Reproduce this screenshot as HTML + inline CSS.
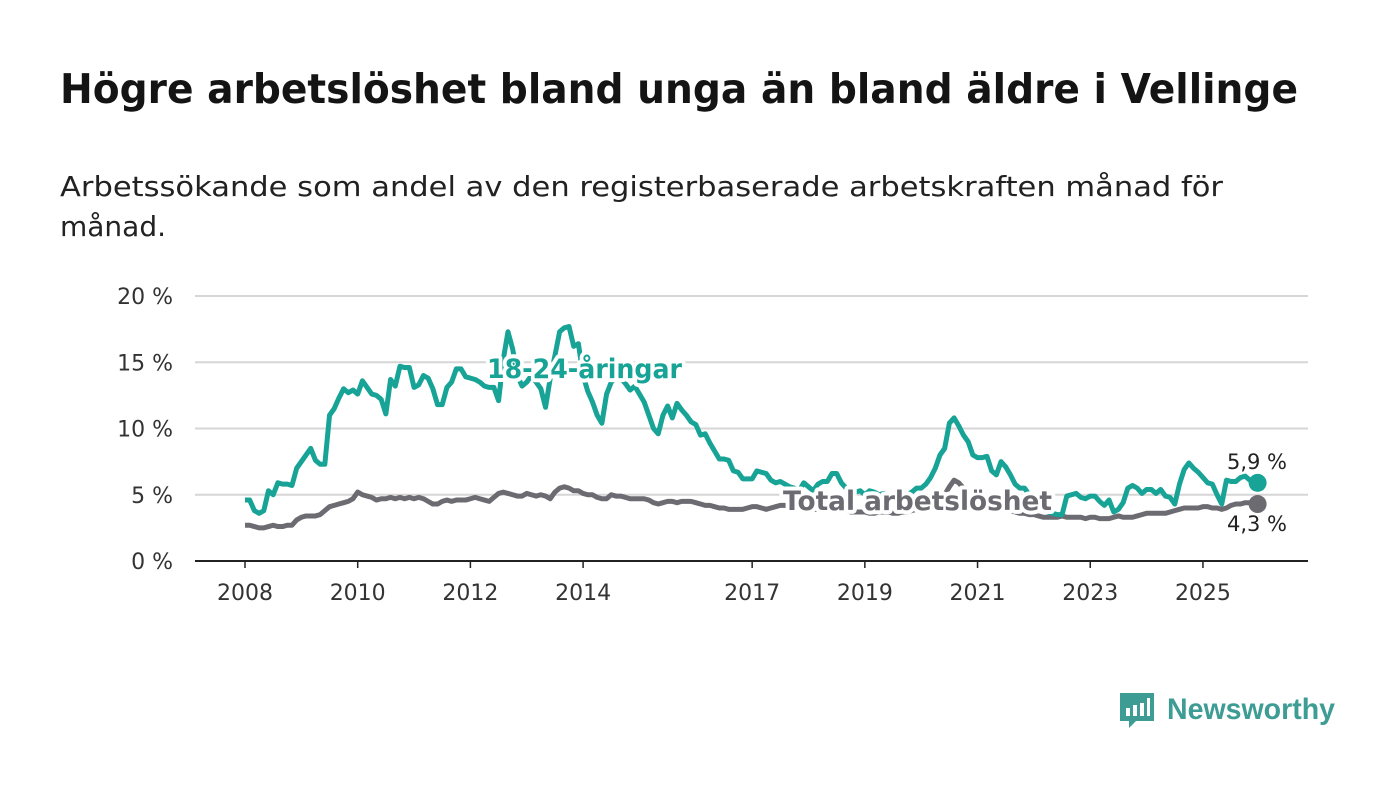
<!DOCTYPE html>
<html><head><meta charset="utf-8"><style>
body{margin:0;background:#fff;width:1400px;height:794px;overflow:hidden;font-family:"DejaVu Sans","Liberation Sans",sans-serif;}
</style></head><body>
<svg width="1400" height="794" xmlns="http://www.w3.org/2000/svg" font-family="DejaVu Sans, Liberation Sans, sans-serif">
<text x="60" y="103" font-size="41" font-weight="bold" fill="#141414" textLength="1238" lengthAdjust="spacingAndGlyphs">Högre arbetslöshet bland unga än bland äldre i Vellinge</text>
<text x="60" y="196" font-size="28" fill="#222" textLength="1163" lengthAdjust="spacingAndGlyphs">Arbetssökande som andel av den registerbaserade arbetskraften månad för</text>
<text x="60" y="236" font-size="28" fill="#222">månad.</text>
<g id="grid"></g><g id="lines"></g><g id="labels"></g>
<g>
<path d="M1120 693 h34 v28 h-18 l-7 7 v-7 h-9 z" fill="#3d9c94"/>
<rect x="1126" y="708" width="4" height="8" fill="#fff"/><rect x="1133" y="705" width="4" height="11" fill="#fff"/><rect x="1140" y="703" width="4" height="13" fill="#fff"/><rect x="1147" y="698" width="3" height="18" fill="#fff"/>
<text x="1167" y="719" font-size="30" font-weight="bold" fill="#3d9c94" font-family="Liberation Sans, sans-serif" textLength="168" lengthAdjust="spacingAndGlyphs">Newsworthy</text>
</g>
</svg>
<script>
const years=[2008,2010,2012,2014,2017,2019,2021,2023,2025];
const yTicks=[0,5,10,15,20];
const youth=[
4.6,4.6,3.8,3.6,3.8,5.3,5.0,5.9,5.8,5.8,5.7,7.0,
7.5,8.0,8.5,7.6,7.3,7.3,11.0,11.5,12.3,13.0,12.7,12.9,
12.6,13.6,13.1,12.6,12.5,12.2,11.1,13.7,13.2,14.7,14.6,14.6,
13.1,13.3,14.0,13.8,13.0,11.8,11.8,13.1,13.5,14.5,14.5,13.9,
13.8,13.7,13.5,13.2,13.1,13.1,12.1,15.2,17.3,16.0,14.0,13.2,
13.5,14.0,13.5,13.0,11.6,13.8,15.5,17.3,17.6,17.7,16.2,16.4,
14.0,12.8,12.0,11.0,10.4,12.6,13.5,13.9,13.8,13.4,12.9,13.2,
12.6,12.0,11.0,10.0,9.6,11.0,11.7,10.8,11.9,11.4,11.0,10.5,
10.3,9.5,9.6,8.9,8.3,7.7,7.7,7.6,6.8,6.7,6.2,6.2,
6.2,6.8,6.7,6.6,6.1,5.9,6.0,5.8,5.6,5.5,5.3,5.9,
5.6,5.3,5.8,6.0,6.0,6.6,6.6,5.9,5.5,5.4,5.2,5.3,
5.0,5.3,5.2,5.0,5.1,5.0,4.7,4.9,5.1,5.0,5.2,5.5,
5.5,5.8,6.3,7.0,8.0,8.5,10.4,10.8,10.2,9.5,9.0,8.0,
7.8,7.8,7.9,6.8,6.5,7.5,7.1,6.5,5.8,5.5,5.5,5.0,
4.6,4.2,3.9,3.7,3.6,3.5,3.5,4.9,5.0,5.1,4.8,4.7,
4.9,4.9,4.5,4.2,4.6,3.7,3.9,4.4,5.5,5.7,5.5,5.1,
5.4,5.4,5.1,5.4,4.9,4.8,4.3,5.8,6.9,7.4,7.0,6.7,
6.3,5.9,5.8,5.0,4.3,6.1,6.0,6.0,6.3,6.4,6.1,5.9];
const total=[
2.7,2.7,2.6,2.5,2.5,2.6,2.7,2.6,2.6,2.7,2.7,3.1,
3.3,3.4,3.4,3.4,3.5,3.8,4.1,4.2,4.3,4.4,4.5,4.7,
5.2,5.0,4.9,4.8,4.6,4.7,4.7,4.8,4.7,4.8,4.7,4.8,
4.7,4.8,4.7,4.5,4.3,4.3,4.5,4.6,4.5,4.6,4.6,4.6,
4.7,4.8,4.7,4.6,4.5,4.8,5.1,5.2,5.1,5.0,4.9,4.9,
5.1,5.0,4.9,5.0,4.9,4.7,5.2,5.5,5.6,5.5,5.3,5.3,
5.1,5.0,5.0,4.8,4.7,4.7,5.0,4.9,4.9,4.8,4.7,4.7,
4.7,4.7,4.6,4.4,4.3,4.4,4.5,4.5,4.4,4.5,4.5,4.5,
4.4,4.3,4.2,4.2,4.1,4.0,4.0,3.9,3.9,3.9,3.9,4.0,
4.1,4.1,4.0,3.9,4.0,4.1,4.2,4.2,4.1,4.0,4.0,4.1,
4.0,3.9,3.9,3.9,3.8,3.9,4.0,3.9,3.8,3.7,3.7,3.7,
3.7,3.6,3.6,3.7,3.7,3.7,3.6,3.6,3.7,3.7,3.8,3.9,
3.9,4.0,4.1,4.3,4.6,5.0,5.6,6.1,5.9,5.5,5.2,5.0,
4.7,4.5,4.6,4.4,4.2,4.0,3.9,3.8,3.7,3.6,3.6,3.5,
3.5,3.4,3.3,3.3,3.3,3.3,3.4,3.3,3.3,3.3,3.3,3.2,
3.3,3.3,3.2,3.2,3.2,3.3,3.4,3.3,3.3,3.3,3.4,3.5,
3.6,3.6,3.6,3.6,3.6,3.7,3.8,3.9,4.0,4.0,4.0,4.0,
4.1,4.1,4.0,4.0,3.9,4.0,4.2,4.3,4.3,4.4,4.4,4.3];
const startYear=2008;
const NS="http://www.w3.org/2000/svg";
const X=t=>245+(t-2008)*56.35;
const Y=v=>561-v*13.25;
function mk(tag,attrs,parent,txt){const e=document.createElementNS(NS,tag);for(const k in attrs)e.setAttribute(k,attrs[k]);if(txt!=null)e.textContent=txt;parent.appendChild(e);return e;}
const grid=document.getElementById('grid');
yTicks.forEach(v=>{
 const l=mk('line',{x1:195,x2:1308,y1:Y(v),y2:Y(v),stroke:v===0?'#222':'#d6d6d6','stroke-width':2},grid);
 
 
 const t=mk('text',{x:173,y:Y(v)+8,'text-anchor':'end','font-size':22,fill:'#333'},grid,v+' %');
 
 
});
years.forEach(yr=>{
 const tk=mk('line',{x1:X(yr),x2:X(yr),y1:561,y2:568,stroke:'#222','stroke-width':1.5},grid);
 
 
 const t=mk('text',{x:X(yr),y:600,'text-anchor':'middle','font-size':22,fill:'#333'},grid,String(yr));
 
 
});
const lines=document.getElementById('lines');
function series(arr,color,name){
 const pts=arr.map((v,i)=>X(startYear+i/12)+','+Y(v)).join(' ');
 const p=mk('polyline',{points:pts,fill:'none',stroke:color,'stroke-width':5,'stroke-linejoin':'round'},lines);
 
 
 const n=arr.length-1;
 const c=mk('circle',{cx:X(startYear+n/12)+3,cy:Y(arr[n]),r:9,fill:color},lines);
 
 
}
series(total,'#6d6b72','total');
series(youth,'#17a396','youth');
const lab=document.getElementById('labels');
function label(x,y,txt,color,size,bold,name,anchor,len){
 const a={x:x,y:y,'font-size':size,'font-weight':bold?'bold':'normal',fill:color,stroke:'#fff','stroke-width':bold?8:5,'paint-order':'stroke','stroke-linejoin':'round','text-anchor':anchor||'start'};
 if(len){a.textLength=len;a.lengthAdjust='spacingAndGlyphs';}
 const t=mk('text',a,lab,txt);
 
 
}
label(487,378,'18-24-åringar','#17a396',27,true,'youth-series-label','start',195);
label(783,510,'Total arbetslöshet','#6d6b72',27,true,'total-series-label','start',269);
label(1257,469,youth[youth.length-1].toFixed(1).replace('.',',')+' %','#222',21,false,'youth-end-value','middle');
label(1257,531,total[total.length-1].toFixed(1).replace('.',',')+' %','#222',21,false,'total-end-value','middle');
</script>
</body></html>
